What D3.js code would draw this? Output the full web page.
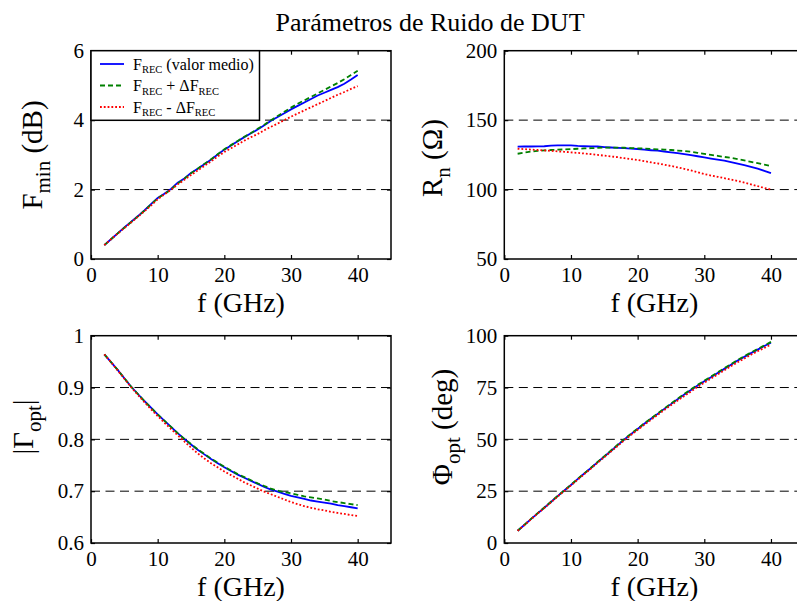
<!DOCTYPE html>
<html>
<head>
<meta charset="utf-8">
<script src="https://cdn.jsdelivr.net/npm/d3@7"></script>
<style>
  html, body { margin: 0; padding: 0; background: #fff; }
  svg text { font-family: "Liberation Serif", "Times New Roman", serif !important; fill: #000; }
</style>
</head>
<body>
<svg id="fig" width="797" height="601"></svg>
<script>
// Frequency sweep (GHz)
const freq = d3.range(2, 41);

// Minimum noise figure Fmin (dB)
const fminMean = [0.40,0.57,0.74,0.91,1.07,1.23,1.40,1.58,1.76,1.88,2.02,2.20,2.32,2.48,2.60,2.73,2.86,3.01,3.15,3.27,3.39,3.51,3.62,3.73,3.85,3.98,4.09,4.20,4.31,4.41,4.51,4.61,4.71,4.79,4.87,4.95,5.05,5.17,5.30];
const fminPlus = [0.40,0.57,0.74,0.90,1.06,1.22,1.39,1.57,1.75,1.87,2.00,2.17,2.31,2.47,2.60,2.74,2.87,3.02,3.16,3.28,3.40,3.52,3.63,3.75,3.87,4.00,4.12,4.24,4.36,4.47,4.57,4.67,4.77,4.87,4.97,5.07,5.18,5.30,5.42];
const fminMinus = [0.40,0.57,0.73,0.89,1.05,1.21,1.37,1.54,1.72,1.86,1.99,2.15,2.28,2.42,2.55,2.68,2.81,2.95,3.08,3.19,3.30,3.41,3.51,3.60,3.71,3.81,3.90,4.00,4.10,4.19,4.28,4.37,4.46,4.55,4.64,4.73,4.81,4.90,4.98];

// Equivalent noise resistance Rn (ohm)
const rnMean = [130.9,131.0,131.0,131.1,131.2,131.6,131.8,131.8,131.8,131.4,131.2,131.1,131.0,130.6,130.3,130.0,129.8,129.5,129.2,128.7,128.3,128.0,127.4,126.8,126.2,125.6,124.8,124.0,123.2,122.3,121.5,120.8,119.8,118.7,117.6,116.4,115.1,113.5,111.8];
const rnPlus = [125.8,126.6,127.3,127.8,128.2,128.5,128.7,128.9,129.1,129.4,129.6,129.8,130.0,130.2,130.2,130.2,130.1,129.9,129.7,129.5,129.3,129.0,128.8,128.5,128.1,127.7,127.2,126.5,125.7,125.0,124.3,123.5,122.8,122.0,121.0,120.0,119.0,118.0,117.0];
const rnMinus = [129.4,129.1,128.8,128.5,128.2,127.9,127.5,127.2,126.8,126.4,126.0,125.5,125.0,124.4,123.9,123.3,122.6,122.0,121.3,120.5,119.6,118.8,117.9,117.0,116.0,114.9,113.8,112.5,111.2,110.1,109.2,108.2,107.2,106.2,105.0,103.8,102.5,101.2,100.0];

// Optimum reflection coefficient magnitude |Gamma_opt|
const gMagMean = [0.964,0.949,0.934,0.918,0.902,0.888,0.874,0.861,0.848,0.836,0.824,0.812,0.801,0.790,0.780,0.771,0.762,0.754,0.746,0.739,0.732,0.726,0.720,0.714,0.708,0.703,0.699,0.695,0.691,0.688,0.685,0.682,0.680,0.678,0.676,0.673,0.671,0.669,0.667];
const gMagPlus = [0.964,0.949,0.934,0.918,0.902,0.888,0.874,0.861,0.848,0.836,0.824,0.812,0.801,0.791,0.781,0.772,0.763,0.755,0.747,0.740,0.733,0.727,0.721,0.715,0.710,0.705,0.701,0.698,0.696,0.693,0.690,0.688,0.686,0.684,0.681,0.679,0.677,0.675,0.673];
const gMagMinus = [0.964,0.949,0.933,0.917,0.901,0.886,0.872,0.858,0.845,0.832,0.820,0.808,0.796,0.784,0.773,0.763,0.754,0.746,0.738,0.731,0.724,0.717,0.711,0.705,0.699,0.694,0.689,0.684,0.679,0.675,0.671,0.668,0.665,0.663,0.660,0.658,0.656,0.654,0.652];

// Optimum reflection coefficient phase Phi_opt (deg)
const gPhMean = [5.9,8.7,11.5,14.3,17.0,19.8,22.6,25.3,28.0,30.8,33.5,36.2,39.0,41.7,44.4,47.2,49.9,52.5,55.0,57.5,59.9,62.3,64.7,67.0,69.3,71.6,73.8,76.0,78.0,80.0,82.0,84.0,86.0,88.0,89.8,91.6,93.3,95.0,96.6];
const gPhPlus = [5.9,8.7,11.6,14.4,17.1,19.9,22.7,25.4,28.1,30.9,33.6,36.3,39.1,41.8,44.6,47.4,50.1,52.7,55.2,57.7,60.1,62.5,64.9,67.3,69.6,71.9,74.1,76.3,78.3,80.3,82.3,84.3,86.3,88.3,90.1,91.9,93.6,95.3,97.0];
const gPhMinus = [5.9,8.6,11.4,14.2,16.9,19.6,22.4,25.1,27.8,30.5,33.2,35.9,38.7,41.4,44.1,46.8,49.5,52.1,54.6,57.0,59.4,61.8,64.2,66.5,68.7,70.9,73.1,75.3,77.3,79.3,81.3,83.3,85.3,87.2,89.0,90.8,92.5,94.1,95.7];

// Axis ticks
const xTicks = [0, 10, 20, 30, 40];
const fminTicks = [0, 2, 4, 6];
const rnTicks = [50, 100, 150, 200];
const gMagTicks = [0.6, 0.7, 0.8, 0.9, 1];
const gPhTicks = [0, 25, 50, 75, 100];

// Text
const titleText = "Parámetros de Ruido de DUT";
const legendItems = [
  { main: "F", sub: "REC", rest: " (valor medio)" },
  { main: "F", sub: "REC", rest: " + ΔF", sub2: "REC" },
  { main: "F", sub: "REC", rest: " - ΔF", sub2: "REC" }
];

const seriesStyle = [
  { color: "#0000ff", dash: null },
  { color: "#008000", dash: "5,3" },
  { color: "#ff0000", dash: "1.8,2" }
];

const svg = d3.select("#fig");

svg.append("text")
  .attr("x", 430).attr("y", 31)
  .attr("text-anchor", "middle")
  .attr("font-size", 26)
  .text(titleText);

const panels = [
  { left: 91, top: 50.7, bottom: 259, domain: [0, 6], ticks: fminTicks, series: [fminMean, fminPlus, fminMinus],
    ylab: { main: "F", sub: "min", rest: " (dB)" }, ylabX: 42, ylabY: 155, xlabY: 311.5, legend: true },
  { left: 504.3, top: 50.7, bottom: 259, domain: [50, 200], ticks: rnTicks, series: [rnMean, rnPlus, rnMinus],
    ylab: { main: "R", sub: "n", rest: " (Ω)" }, ylabX: 442, ylabY: 158, xlabY: 311.5 },
  { left: 91, top: 335.7, bottom: 543, domain: [0.6, 1], ticks: gMagTicks, series: [gMagMean, gMagPlus, gMagMinus],
    ylab: { main: "|Γ", sub: "opt", rest: "|" }, ylabX: 33, ylabY: 427, xlabY: 595.5 },
  { left: 504.3, top: 335.7, bottom: 543, domain: [0, 100], ticks: gPhTicks, series: [gPhMean, gPhPlus, gPhMinus],
    ylab: { main: "Φ", sub: "opt", rest: " (deg)" }, ylabX: 452, ylabY: 427, xlabY: 595.5 }
];

const plotWidth = 300;

panels.forEach(p => {
  const x = d3.scaleLinear().domain([0, 45]).range([p.left, p.left + plotWidth]);
  const y = d3.scaleLinear().domain(p.domain).range([p.bottom, p.top]);
  const g = svg.append("g");

  // dashed horizontal grid at interior ticks
  g.selectAll("line.grid")
    .data(p.ticks.filter(t => t > p.domain[0] && t < p.domain[1]))
    .join("line")
    .attr("x1", x(0)).attr("x2", x(45))
    .attr("y1", d => y(d)).attr("y2", d => y(d))
    .attr("stroke", "#000").attr("stroke-width", 1)
    .attr("stroke-dasharray", "9,5.5");

  // series
  const line = d3.line().x((d, i) => x(freq[i])).y(d => y(d));
  p.series.forEach((s, k) => {
    g.append("path")
      .attr("d", line(s))
      .attr("fill", "none")
      .attr("stroke", seriesStyle[k].color)
      .attr("stroke-width", 1.8)
      .attr("stroke-dasharray", seriesStyle[k].dash);
  });

  // axes with inward ticks, labels on left and bottom only
  const bottomAxis = d3.axisBottom(x).tickValues(xTicks).tickSize(-4).tickPadding(8).tickFormat(d3.format("d"));
  const topAxis = d3.axisTop(x).tickValues(xTicks).tickSize(-4).tickFormat("");
  const leftAxis = d3.axisLeft(y).tickValues(p.ticks).tickSize(-4).tickPadding(7).tickFormat(d => String(+d.toFixed(2)));
  const rightAxis = d3.axisRight(y).tickValues(p.ticks).tickSize(-4).tickFormat("");

  [[bottomAxis, `translate(0,${p.bottom})`], [topAxis, `translate(0,${p.top})`],
   [leftAxis, `translate(${p.left},0)`], [rightAxis, `translate(${p.left + plotWidth},0)`]].forEach(([ax, tr]) => {
    const a = g.append("g").attr("transform", tr).call(ax);
    a.attr("font-family", null);
    a.select(".domain").remove();
    a.selectAll(".tick line").attr("stroke", "#000").attr("stroke-width", 1.2);
    a.selectAll(".tick text").attr("font-size", 21).attr("fill", "#000");
  });

  // plot frame
  g.append("rect")
    .attr("x", p.left).attr("y", p.top)
    .attr("width", plotWidth).attr("height", p.bottom - p.top)
    .attr("fill", "none").attr("stroke", "#000").attr("stroke-width", 1.5);

  // x label
  g.append("text")
    .attr("x", p.left + plotWidth / 2).attr("y", p.xlabY)
    .attr("text-anchor", "middle").attr("font-size", 28)
    .text("f (GHz)");

  // y label with subscript
  const yl = g.append("text")
    .attr("transform", `translate(${p.ylabX},${p.ylabY}) rotate(-90)`)
    .attr("text-anchor", "middle").attr("font-size", 29);
  yl.append("tspan").text(p.ylab.main);
  yl.append("tspan").attr("font-size", 21).attr("dy", 8).text(p.ylab.sub);
  yl.append("tspan").attr("dy", -8).text(p.ylab.rest);

  if (p.legend) {
    const lx = p.left, ly = p.top, lw = 168.5, lh = 69.6;
    const lg = g.append("g");
    lg.append("rect")
      .attr("x", lx).attr("y", ly).attr("width", lw).attr("height", lh)
      .attr("fill", "#fff").attr("stroke", "#000").attr("stroke-width", 1.5);
    legendItems.forEach((it, k) => {
      const ry = ly + 13.3 + k * 21.5;
      lg.append("line")
        .attr("x1", lx + 9).attr("x2", lx + 33)
        .attr("y1", ry).attr("y2", ry)
        .attr("stroke", seriesStyle[k].color).attr("stroke-width", 1.8)
        .attr("stroke-dasharray", seriesStyle[k].dash);
      const t = lg.append("text").attr("x", lx + 42).attr("y", ry + 5.5).attr("font-size", 16);
      t.append("tspan").text(it.main);
      t.append("tspan").attr("font-size", 10.5).attr("dy", 3.5).text(it.sub);
      t.append("tspan").attr("dy", -3.5).text(it.rest);
      if (it.sub2) t.append("tspan").attr("font-size", 10.5).attr("dy", 3.5).text(it.sub2);
    });
  }
});
</script>
</body>
</html>
